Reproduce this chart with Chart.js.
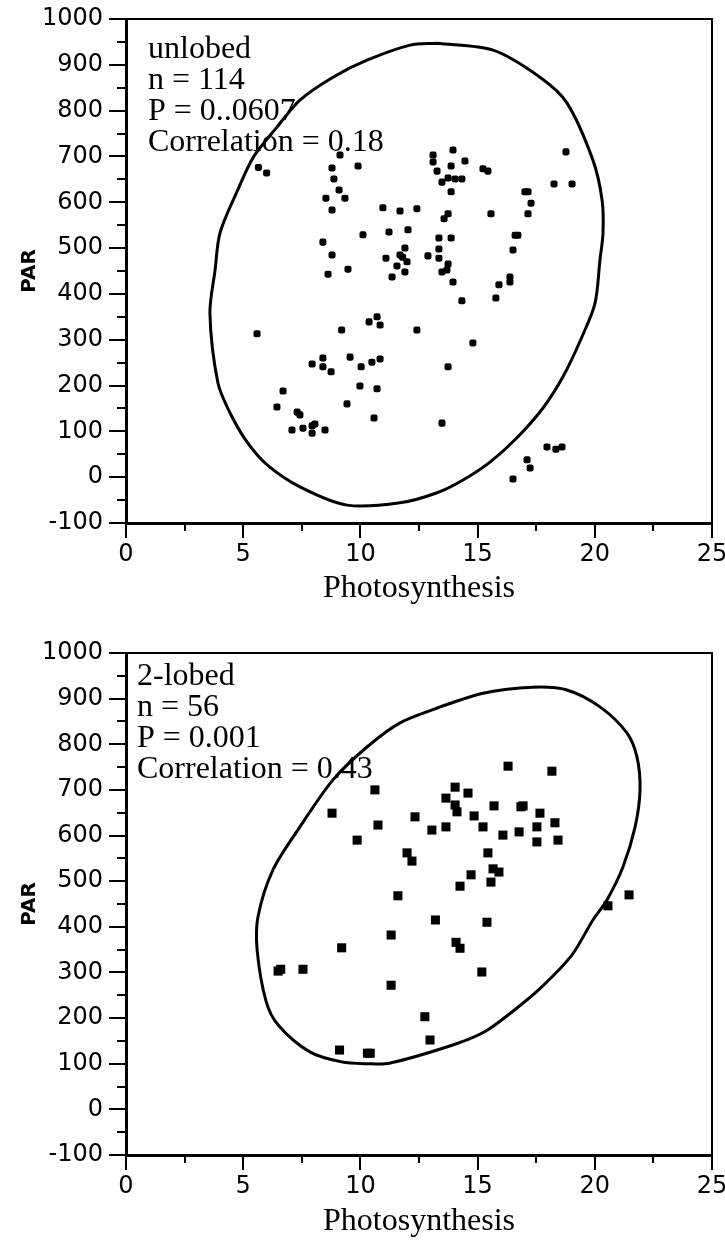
<!DOCTYPE html>
<html><head><meta charset="utf-8">
<script src="https://cdn.jsdelivr.net/npm/chart.js@4/dist/chart.umd.min.js"></script>
<style>html,body{margin:0;padding:0;background:#fff;}canvas{display:block;}</style>
</head><body>
<canvas id="c1" width="725" height="622"></canvas>
<canvas id="c2" width="725" height="622"></canvas>
<script>
// ---------- data: unlobed ----------
const unlobedX = [5.65,6.0,9.13,8.79,9.9,8.87,9.09,9.34,8.53,8.79,10.96,11.69,12.03,10.11,11.22,8.4,8.79,9.47,8.62,11.09,11.69,11.9,11.99,11.56,11.35,11.9,5.59,9.2,10.37,10.71,10.84,8.4,7.94,8.4,8.75,9.56,10.03,10.49,10.84,6.7,6.44,7.3,7.42,9.98,10.71,9.43,10.58,7.08,7.55,7.94,8.06,7.94,8.49,13.95,13.1,13.1,14.46,13.87,13.27,15.23,15.44,13.74,14.04,14.33,13.48,13.87,12.41,13.74,13.57,15.57,18.77,18.26,19.03,17.02,17.15,17.28,17.15,13.35,13.87,16.6,16.72,16.51,13.35,13.35,12.88,13.74,13.69,13.48,13.95,15.91,16.38,16.38,15.78,14.33,12.41,14.8,13.74,13.48,17.96,18.34,18.6,17.11,17.24,16.51,11.8];
const unlobedPAR = [676,664,703,675,679,651,627,609,609,583,588,581,540,529,535,513,485,454,443,478,485,500,470,461,437,448,313,321,339,350,332,260,247,241,230,262,241,251,258,188,153,142,136,199,193,160,129,103,107,112,116,96,103,714,703,688,690,679,668,673,668,653,651,651,644,623,586,575,564,575,710,640,640,623,623,598,575,522,522,528,528,496,498,478,483,465,452,448,426,420,437,426,391,385,321,293,241,118,66,61,66,38,20,-4,480];
const unlobedEllipseX = [13.27,15.66,17.66,18.81,19.92,20.31,20.35,20.22,20.01,19.45,18.64,17.79,16.68,15.53,14.38,13.27,11.69,9.43,7.42,6.02,5.16,4.44,3.92,3.58,3.80,4.01,4.75,5.45,6.44,7.42,8.83,10.28,12.12,13.27];
const unlobedEllipseY = [947,932,873,817,692,605,533,474,380,306,219,151,86,33,-6,-34,-56,-61,-21,27,77,140,206,358,452,533,625,700,764,823,873,910,943,947];
const unlobedNotes = ['unlobed','n = 114','P = 0..0607','Correlation = 0.18'];

// ---------- data: 2-lobed ----------
const lobedX = [10.62,8.79,12.33,10.75,13.05,9.86,11.99,12.2,11.6,13.2,16.3,18.17,14.04,14.59,13.65,14.04,14.12,15.7,16.85,16.94,14.85,17.66,15.23,13.65,16.08,16.77,17.53,18.3,17.53,18.43,15.44,15.66,15.91,14.72,14.25,15.57,21.46,20.56,15.4,11.31,9.2,14.08,14.25,6.49,6.6,7.55,11.31,15.18,12.75,12.97,9.11,10.42,10.3];
const lobedPAR = [700,649,641,623,612,590,562,544,468,415,752,741,706,693,682,667,652,665,663,665,643,649,619,619,601,608,619,628,586,590,562,527,520,514,489,498,470,446,410,382,354,366,353,303,307,307,272,301,203,152,130,123,123];
const lobedEllipseX = [13.4,15.23,17.36,18.81,20.22,21.37,21.8,21.93,21.72,21.2,20.52,19.92,19.02,17.67,16.48,15.3,13.94,11.23,10.3,9.2,7.84,6.49,5.98,5.6,5.63,6.27,7.42,8.83,10.28,11.69,13.4];
const lobedEllipseY = [882,912,925,919,882,825,772,700,619,531,459,415,338,265,214,170,141,101,100,104,126,185,236,346,422,525,619,722,794,847,882];
const lobedNotes = ['2-lobed','n = 56','P = 0.001','Correlation = 0.43'];

// ---------- axes ----------
const xRange = [0, 25];
const xStep = 5;
const yRange = [-100, 1000];
const yStep = 100;
const xTitle = 'Photosynthesis';
const yTitle = 'PAR';

const decorations = {
  id: 'decorations',
  afterDraw(chart, args, opts) {
    const {ctx, chartArea: a, scales: {x, y}} = chart;
    ctx.save();
    ctx.strokeStyle = '#000';
    ctx.lineWidth = 2;
    ctx.beginPath();
    ctx.moveTo(a.left, a.top); ctx.lineTo(a.right, a.top); ctx.lineTo(a.right, a.bottom);
    ctx.stroke();
    ctx.beginPath();
    for (let v = y.min + yStep / 2; v < y.max; v += yStep) {
      const py = Math.round(y.getPixelForValue(v));
      ctx.moveTo(a.left, py); ctx.lineTo(a.left - 9, py);
    }
    for (let v = x.min + xStep / 2; v < x.max; v += xStep) {
      const px = Math.round(x.getPixelForValue(v));
      ctx.moveTo(px, a.bottom); ctx.lineTo(px, a.bottom + 8);
    }
    ctx.stroke();
    ctx.fillStyle = '#000';
    ctx.font = '32px "Liberation Serif", "Times New Roman", serif';
    ctx.textBaseline = 'middle';
    ctx.textAlign = 'left';
    opts.lines.forEach((t, i) => ctx.fillText(t, a.left + opts.dx, a.top + opts.dy + i * opts.lh));
    ctx.restore();
  }
};

function toPoints(xs, ys) { return xs.map((v, i) => ({x: v, y: ys[i]})); }

function makeChart(id, xs, ys, ex, ey, notes, p) {
  new Chart(document.getElementById(id), {
    type: 'scatter',
    data: {
      datasets: [
        {data: toPoints(ex, ey), showLine: true, borderColor: '#000', borderWidth: 3, pointRadius: 0, tension: 0.3, fill: false},
        {data: toPoints(xs, ys), pointStyle: p.pointStyle, pointRadius: p.pointRadius, backgroundColor: '#000', borderColor: '#000', pointBorderWidth: 0}
      ]
    },
    options: {
      responsive: false, animation: false, events: [],
      layout: {padding: {top: p.top, right: 13, bottom: 0, left: 0}},
      plugins: {legend: {display: false}, tooltip: {enabled: false},
        decorations: {lines: notes, dx: p.dx, dy: p.dy, lh: p.lh}},
      scales: {
        x: {type: 'linear', min: xRange[0], max: xRange[1],
          ticks: {stepSize: xStep, color: '#000', font: {family: 'DejaVu Sans', size: 24}, padding: 2, maxRotation: 0, autoSkip: false, callback: v => String(v)},
          grid: {drawOnChartArea: false, drawTicks: true, tickLength: 15, color: '#000', lineWidth: 2},
          border: {display: true, color: '#000', width: 3},
          title: {display: true, text: xTitle, color: '#000', font: {family: 'Liberation Serif', size: 32}, padding: {top: 0, bottom: p.titlePad}},
          afterFit: s => { s.height = p.xAxisH; s.paddingLeft = 0; s.paddingRight = 0; }
        },
        y: {type: 'linear', min: yRange[0], max: yRange[1],
          ticks: {stepSize: yStep, color: '#000', font: {family: 'DejaVu Sans', size: 24}, padding: 6, autoSkip: false, callback: v => String(v)},
          grid: {drawOnChartArea: false, drawTicks: true, tickLength: 17, color: '#000', lineWidth: 2},
          border: {display: true, color: '#000', width: 3},
          title: {display: true, text: yTitle, color: '#000', font: {family: 'DejaVu Sans', size: 20, weight: 'bold'}, padding: {top: 18, bottom: 0}},
          afterFit: s => { s.width = 126; s.paddingTop = 0; s.paddingBottom = 0; }
        }
      }
    },
    plugins: [decorations]
  });
}

makeChart('c1', unlobedX, unlobedPAR, unlobedEllipseX, unlobedEllipseY, unlobedNotes,
  {top: 19, xAxisH: 99, titlePad: 14, dx: 22, dy: 31, lh: 30.7, pointStyle: 'rectRounded', pointRadius: 4.1});
makeChart('c2', lobedX, lobedPAR, lobedEllipseX, lobedEllipseY, lobedNotes,
  {top: 31, xAxisH: 89, titlePad: 3, dx: 11, dy: 24, lh: 31, pointStyle: 'rect', pointRadius: 6.4});
</script>
</body></html>
